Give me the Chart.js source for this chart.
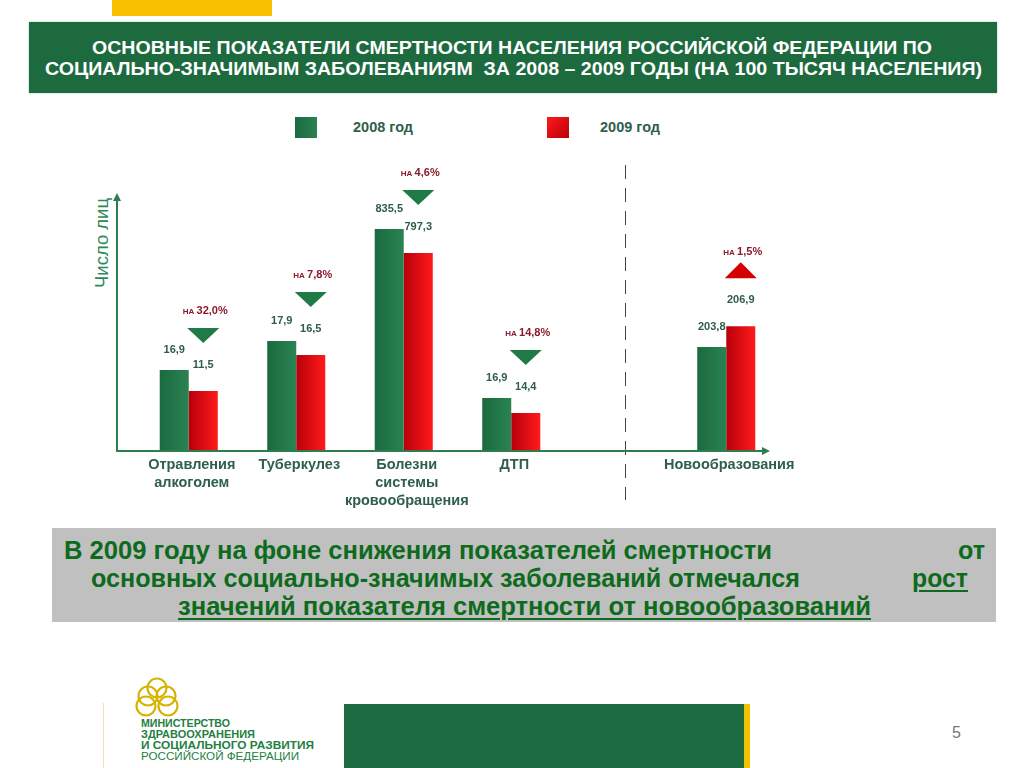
<!DOCTYPE html>
<html lang="ru">
<head>
<meta charset="utf-8">
<script src="https://cdn.jsdelivr.net/npm/chart.js@4.4.1/dist/chart.umd.min.js"></script>
<style>
  html, body { margin:0; padding:0; background:#fff; }
  #stage { position:relative; width:1024px; height:768px; overflow:hidden; font-family:"Liberation Sans", Arial, sans-serif; }
  .abs { position:absolute; }
  .fit { display:inline-block; white-space:nowrap; }
  #topbar { left:112px; top:0; width:160px; height:16px; background:#f7c000; }
  #banner { left:29px; top:22px; width:968px; height:71px; background:#1d6a3f; box-shadow:0 0 2px #9cc; }
  .ttl { position:absolute; color:#fff; font-weight:bold; font-size:17.5px; line-height:20px; }
  .leg-sq { width:22px; height:21px; }
  .leg-tx { font-weight:bold; font-size:14.5px; color:#2f5f4a; line-height:18px; white-space:nowrap; }
  #ytitle { left:102px; top:243px; transform:translate(-50%,-50%) rotate(-90deg); color:#2e8b57; font-size:18.5px; white-space:nowrap; }
  #note { left:52px; top:528px; width:944px; height:94px; background:#c0c0c0; }
  .nt { position:absolute; color:#0e6a1c; font-weight:bold; font-size:25px; line-height:28px; }
  .u { text-decoration:underline; text-decoration-thickness:2px; text-underline-offset:3px; }
  #gbar { left:344px; top:704px; width:400px; height:64px; background:#1b6a40; }
  #ybar { left:744px; top:704px; width:6px; height:64px; background:#f2c100; }
  #pnum { left:952px; top:724px; font-size:16px; color:#777; }
  #vline { left:103px; top:703px; width:1px; height:65px; background:#f0e2a8; }
  .lg { position:absolute; left:141px; color:#23803f; font-size:10px; line-height:10px; font-weight:bold; }
  canvas { position:absolute; left:0; top:0; }
</style>
</head>
<body>
<div id="stage">
  <div id="topbar" class="abs"></div>
  <div id="banner" class="abs">
    <div class="ttl fit" data-w="840" style="left:63px;top:16px">ОСНОВНЫЕ ПОКАЗАТЕЛИ СМЕРТНОСТИ НАСЕЛЕНИЯ РОССИЙСКОЙ ФЕДЕРАЦИИ ПО</div>
    <div class="ttl fit" data-w="937" style="left:16px;top:37px">СОЦИАЛЬНО-ЗНАЧИМЫМ ЗАБОЛЕВАНИЯМ&nbsp; ЗА 2008 – 2009 ГОДЫ (НА 100 ТЫСЯЧ НАСЕЛЕНИЯ)</div>
  </div>

  <div class="abs leg-sq" style="left:295px;top:117px;background:linear-gradient(90deg,#1b6a40,#2a8352)"></div>
  <div class="abs leg-tx" style="left:353px;top:118px">2008 год</div>
  <div class="abs leg-sq" style="left:547px;top:117px;background:linear-gradient(135deg,#ff1a1a,#b8000c)"></div>
  <div class="abs leg-tx" style="left:600px;top:118px">2009 год</div>

  <div id="ytitle" class="abs">Число лиц</div>

  <div id="note" class="abs">
    <div class="nt fit" data-w="708" style="left:12px;top:8px">В 2009 году на фоне снижения показателей смертности</div>
    <div class="nt fit" data-w="27" style="left:906px;top:8px">от</div>
    <div class="nt fit" data-w="709" style="left:39px;top:36px">основных социально-значимых заболеваний отмечался</div>
    <div class="nt fit u" data-w="56" style="left:860px;top:36px">рост</div>
    <div class="nt fit u" data-w="693" style="left:126px;top:64px">значений показателя смертности от новообразований</div>
  </div>

  <div id="vline" class="abs"></div>
  <svg class="abs" style="left:134px;top:676px" width="48" height="44" viewBox="0 0 48 44">
    <g fill="none" stroke="#d6b300" stroke-width="2.2">
      <circle cx="23" cy="12" r="9.5"/>
      <circle cx="14" cy="20" r="9.5"/>
      <circle cx="32" cy="20" r="9.5"/>
      <circle cx="12" cy="30" r="9.5"/>
      <circle cx="34" cy="30" r="9.5"/>
    </g>
  </svg>
  <div class="lg fit" data-w="89" style="top:719px">МИНИСТЕРСТВО</div>
  <div class="lg fit" data-w="114" style="top:730px">ЗДРАВООХРАНЕНИЯ</div>
  <div class="lg fit" data-w="173" style="top:741px">И СОЦИАЛЬНОГО РАЗВИТИЯ</div>
  <div class="lg fit" data-w="158" style="top:752px;font-weight:normal">РОССИЙСКОЙ ФЕДЕРАЦИИ</div>

  <div id="gbar" class="abs"></div>
  <div id="ybar" class="abs"></div>
  <div id="pnum" class="abs">5</div>

  <canvas id="c" width="1024" height="768"></canvas>
</div>

<script>
// squeeze/stretch text blocks to the widths seen on the slide
document.querySelectorAll('.fit').forEach(el => {
  const target = +el.dataset.w;
  const w = el.getBoundingClientRect().width;
  if (w > 0) { el.style.transformOrigin = 'left center'; el.style.transform = 'scaleX(' + (target / w) + ')'; }
});

// ---- data ----
const categories = [['Отравления','алкоголем'], 'Туберкулез', ['Болезни','системы','кровообращения'], 'ДТП', '', 'Новообразования'];
const values2008 = [16.9, 17.9, 835.5, 16.9, null, 203.8];   // printed values
const values2009 = [11.5, 16.5, 797.3, 14.4, null, 206.9];
// the slide draws bars with illustrative (non-proportional) heights; relative heights (0–100 axis)
const barHeight2008 = [31.4, 42.6, 86.0, 20.5, null, 40.3];
const barHeight2009 = [23.3, 37.2, 76.7, 14.7, null, 48.4];
const changeLabels = ['32,0%', '7,8%', '4,6%', '14,8%', null, '1,5%'];
const seriesNames = ['2008 год', '2009 год'];

const fmt = v => String(v.toFixed(1)).replace('.', ',');

function barFill(c, dark, light) {
  const ch = c.chart, xs = ch.scales && ch.scales.x;
  if (c.type !== 'data' || !xs || !ch.chartArea) return dark;
  const cx = xs.getPixelForValue(c.dataIndex);
  const w = (xs.right - xs.left) / categories.length * 0.27;
  const l = c.datasetIndex === 0 ? cx - w : cx;
  const g = ch.ctx.createLinearGradient(l, 0, l + w, 0);
  g.addColorStop(0, dark); g.addColorStop(1, light);
  return g;
}

const decor = {
  id: 'decor',
  beforeDatasetsDraw(chart) {
    const { ctx, scales: { x } } = chart;
    ctx.save();
    ctx.strokeStyle = '#444'; ctx.lineWidth = 1; ctx.setLineDash([14, 9]);
    const dx = Math.round(x.getPixelForValue(4) + 6) + 0.5;
    ctx.beginPath(); ctx.moveTo(dx, 165); ctx.lineTo(dx, 500); ctx.stroke();
    ctx.restore();
  },
  afterDatasetsDraw(chart) {
    const { ctx, chartArea: a, scales: { x } } = chart;
    ctx.save();
    const ax = a.left - 18, base = a.bottom;
    ctx.strokeStyle = '#2e7d4f'; ctx.fillStyle = '#2e7d4f'; ctx.lineWidth = 2;
    ctx.beginPath(); ctx.moveTo(ax, base); ctx.lineTo(ax, a.top + 6); ctx.stroke();
    ctx.beginPath(); ctx.moveTo(ax, a.top); ctx.lineTo(ax - 4, a.top + 8); ctx.lineTo(ax + 4, a.top + 8); ctx.closePath(); ctx.fill();
    const xe = a.right - 10;
    ctx.beginPath(); ctx.moveTo(ax - 1, base); ctx.lineTo(xe - 6, base); ctx.stroke();
    ctx.beginPath(); ctx.moveTo(xe, base); ctx.lineTo(xe - 8, base - 4); ctx.lineTo(xe - 8, base + 4); ctx.closePath(); ctx.fill();

    const F = s => 'bold ' + s + 'px "Liberation Sans", Arial, sans-serif';
    ctx.textAlign = 'center'; ctx.textBaseline = 'middle';
    const m0 = chart.getDatasetMeta(0), m1 = chart.getDatasetMeta(1);
    categories.forEach((cat, i) => {
      if (values2008[i] == null) return;
      const b0 = m0.data[i], b1 = m1.data[i];
      ctx.font = F(11); ctx.textAlign = 'center';
      ctx.fillStyle = '#2f5d47';
      ctx.fillText(fmt(values2008[i]), b0.x, b0.y - 20);
      ctx.fillText(fmt(values2009[i]), b1.x, b1.y - 26);
      const up = values2009[i] > values2008[i];
      const tx = b1.x, ty = b1.y - 56;
      ctx.fillStyle = up ? '#d40000' : '#1f7a46';
      ctx.beginPath();
      if (up) { ctx.moveTo(tx - 16, ty + 8); ctx.lineTo(tx + 16, ty + 8); ctx.lineTo(tx, ty - 8); }
      else { ctx.moveTo(tx - 16, ty - 7); ctx.lineTo(tx + 16, ty - 7); ctx.lineTo(tx, ty + 8); }
      ctx.closePath(); ctx.fill();
      const ly = b1.y - 80 + (up ? 6 : 0);
      ctx.fillStyle = '#8b1a2b';
      ctx.font = F(8); const w1 = ctx.measureText('НА ').width;
      ctx.font = F(11); const w2 = ctx.measureText(changeLabels[i]).width;
      const sx = tx + 2 - (w1 + w2) / 2;
      ctx.textAlign = 'left';
      ctx.font = F(8); ctx.fillText('НА ', sx, ly + 1);
      ctx.font = F(11); ctx.fillText(changeLabels[i], sx + w1, ly);
    });

    ctx.font = F(14.5); ctx.textAlign = 'center';
    ctx.fillStyle = '#2f5f4a';
    categories.forEach((cat, i) => {
      const lines = Array.isArray(cat) ? cat : [cat];
      const cx = x.getPixelForValue(i) + 3;
      lines.forEach((t, k) => ctx.fillText(t, cx, base + 14 + k * 18));
    });
    ctx.restore();
  }
};

new Chart(document.getElementById('c'), {
  type: 'bar',
  data: {
    labels: categories,
    datasets: [
      { label: seriesNames[0], data: barHeight2008, backgroundColor: c => barFill(c, '#1b6a40', '#2a8352'),
        categoryPercentage: 0.54, barPercentage: 1.0, borderWidth: 0 },
      { label: seriesNames[1], data: barHeight2009, backgroundColor: c => barFill(c, '#b8000c', '#ff1a1a'),
        categoryPercentage: 0.54, barPercentage: 1.0, borderWidth: 0 }
    ]
  },
  options: {
    responsive: false,
    animation: false,
    layout: { padding: { left: 135, right: 244, top: 193, bottom: 317 } },
    plugins: { legend: { display: false }, tooltip: { enabled: false } },
    scales: {
      x: { display: false },
      y: { display: false, min: 0, max: 100 }
    }
  },
  plugins: [decor]
});
</script>
</body>
</html>
